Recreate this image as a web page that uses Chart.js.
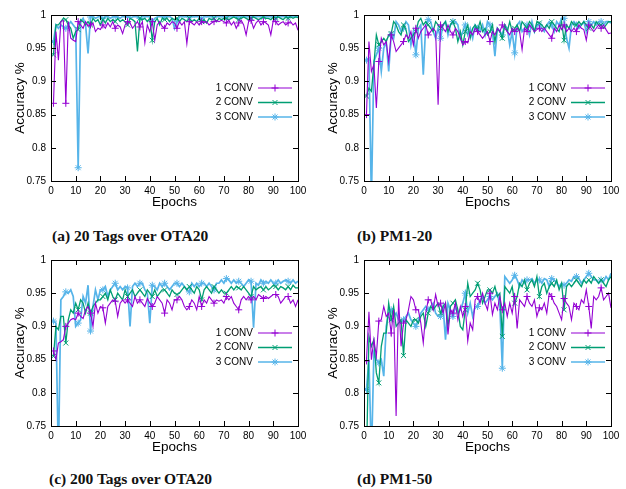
<!DOCTYPE html>
<html>
<head>
<meta charset="utf-8">
<script src="https://cdn.jsdelivr.net/npm/chart.js@4.4.1/dist/chart.umd.min.js"></script>
<style>
    body { margin: 0; background: #fff; width: 626px; height: 489px; position: relative; overflow: hidden; }
    canvas { position: absolute; }
    .cap { position: absolute; font: bold 15.5px "Liberation Serif", serif; line-height: 18px; color: #111; white-space: nowrap; }
</style>
</head>
<body>
<canvas id="chartA" width="313" height="215" style="left:0;top:0"></canvas>
<canvas id="chartB" width="313" height="215" style="left:313px;top:0"></canvas>
<canvas id="chartC" width="313" height="215" style="left:0;top:245px"></canvas>
<canvas id="chartD" width="313" height="215" style="left:313px;top:245px"></canvas>
<div class="cap" style="left:52px;top:227px">(a) 20 Tags over OTA20</div>
<div class="cap" style="left:357px;top:227px">(b) PM1-20</div>
<div class="cap" style="left:49px;top:470px">(c) 200 Tags over OTA20</div>
<div class="cap" style="left:357px;top:470px">(d) PM1-50</div>
<script>
const seriesNames = ['1 CONV', '2 CONV', '3 CONV'];
const xTicks = [0, 10, 20, 30, 40, 50, 60, 70, 80, 90, 100];
const yTicks = [0.75, 0.8, 0.85, 0.9, 0.95, 1];
const epochs = Array.from({ length: 100 }, (_, i) => i + 1);

// (a) 20 Tags over OTA20
const tags20Conv1 = [
    .867,.975,.932,.99,.992,.867,.99,.965,.962,.96,
    .99,.985,.98,.99,.983,.985,.988,.975,.98,.978,
    .985,.98,.988,.982,.99,.98,.985,.982,.972,.985,
    .99,.988,.98,.985,.99,.982,.99,.958,.985,.975,
    .99,.962,.985,.99,.983,.98,.988,.985,.99,.988,
    .98,.99,.985,.99,.957,.99,.988,.985,.99,.985,
    .99,.988,.99,.985,.988,.99,.992,.99,.992,.99,
    .988,.992,.985,.99,.98,.988,.992,.985,.97,.99,
    .992,.98,.988,.992,.985,.99,.988,.985,.97,.992,
    .99,.985,.988,.99,.985,.988,.99,.985,.988,.977];
const tags20Conv2 = [
    .94,.985,.985,.99,.995,.993,.985,.98,.965,.975,
    .978,.993,.99,.985,.99,.985,.995,.99,.993,.985,
    .993,.988,.995,.99,.993,.99,.995,.99,.993,.99,
    .985,.995,.993,.99,.945,.995,.993,.995,.99,.995,
    .962,.99,.995,.985,.995,.993,.995,.99,.995,.993,
    .995,.99,.995,.993,.99,.995,.99,.993,.99,.995,
    .99,.993,.988,.995,.993,.995,.99,.995,.993,.995,
    .995,.993,.995,.997,.995,.993,.995,.997,.995,.993,
    .995,.997,.995,.993,.995,.997,.995,.995,.993,.997,
    .995,.997,.995,.993,.997,.995,.997,.995,.997,.996];
const tags20Conv3 = [
    .96,.985,.98,.985,.982,.98,.985,.99,.985,.98,
    .77,.99,.995,.985,.942,.997,.998,.995,.997,.998,
    .995,.997,.998,.995,.997,.998,.997,.995,.998,.997,
    .998,.995,.997,.998,.997,.995,.998,.997,.998,.997,
    .99,.995,.997,.998,.997,.998,.997,.998,.995,.98,
    .99,.997,.998,.997,.998,.997,.998,.997,.998,.997,
    .995,.998,.997,.998,.997,.998,.997,.998,.997,.998,
    .997,.998,.997,.998,.997,.998,.997,.998,.997,.998,
    .997,.998,.997,.998,.997,.998,.997,.998,.997,.998,
    .997,.998,.997,.998,.997,.998,.997,.998,.997,.998];

// (b) PM1-20
const pm120Conv1 = [
    .85,.96,.915,.925,.86,.93,.965,.955,.96,.93,
    .97,.96,.945,.95,.955,.96,.97,.965,.975,.955,
    .98,.965,.975,.98,.985,.97,.975,.98,.975,.865,
    .985,.98,.975,.985,.975,.97,.98,.975,.965,.955,
    .96,.958,.975,.97,.98,.975,.97,.965,.97,.975,
    .96,.975,.97,.98,.975,.985,.98,.975,.97,.98,
    .975,.98,.975,.948,.98,.975,.985,.98,.975,.978,
    .98,.975,.98,.975,.97,.965,.98,.975,.985,.978,
    .985,.975,.98,.975,.98,.975,.985,.98,.978,.962,
    .985,.98,.975,.98,.985,.98,.985,.978,.972,.973];
const pm120Conv2 = [
    .878,.89,.885,.925,.97,.955,.96,.965,.96,.97,
    .972,.99,.985,.975,.97,.985,.978,.96,.965,.97,
    .975,.99,.995,.985,.99,.985,.98,.975,.99,.985,
    .98,.985,.99,.975,.985,.99,.98,.96,.975,.955,
    .975,.985,.965,.98,.985,.978,.99,.975,.98,.97,
    .975,.985,.96,.98,.975,.965,.985,.975,.99,.975,
    .98,.985,.975,.99,.985,.98,.99,.985,.975,.99,
    .988,.985,.98,.985,.98,.99,.985,.98,.975,.99,
    .962,.985,.98,.99,.985,.985,.99,.985,.99,.985,
    .98,.985,.98,.99,.985,.985,.98,.985,.99,.99];
const pm120Conv3 = [
    .932,.935,.72,.93,.94,.95,.915,.95,.96,.915,
    .97,.965,.99,.985,.975,.98,.99,.985,.955,.975,
    .94,.98,.985,.91,.985,.993,.99,.975,.965,.98,
    .965,.985,.99,.97,.985,.99,.99,.985,.965,.975,
    .985,.97,.98,.965,.985,.98,.975,.985,.97,.99,
    .985,.975,.938,.98,.975,.97,.985,.98,.955,.975,
    .943,.985,.99,.975,.98,.985,.97,.99,.975,.985,
    .985,.98,.975,.985,.99,.985,.975,.99,.985,.995,
    .995,.965,.95,.985,.99,.985,.98,.985,.99,.975,
    .99,.985,.99,.985,.99,.99,.985,.99,.99,.988];

// (c) 200 Tags over OTA20
const tags200Conv1 = [
    .863,.85,.875,.877,.88,.9,.905,.91,.912,.91,
    .92,.915,.912,.925,.93,.92,.9,.935,.92,.93,
    .928,.905,.93,.935,.94,.938,.915,.935,.94,.935,
    .94,.935,.93,.945,.935,.94,.935,.93,.942,.935,
    .93,.935,.945,.94,.935,.92,.94,.935,.925,.94,
    .94,.945,.94,.93,.925,.93,.94,.935,.925,.945,
    .93,.94,.935,.945,.94,.935,.94,.938,.94,.935,
    .945,.94,.945,.935,.93,.925,.94,.945,.94,.945,
    .94,.945,.94,.948,.945,.942,.945,.942,.945,.948,
    .948,.945,.935,.94,.945,.945,.935,.94,.93,.94];
const tags200Conv2 = [
    .855,.9,.895,.915,.915,.875,.91,.925,.92,.935,
    .925,.94,.935,.92,.935,.92,.93,.935,.94,.94,
    .945,.95,.94,.955,.945,.94,.95,.945,.94,.955,
    .945,.95,.955,.945,.95,.955,.95,.945,.955,.95,
    .945,.955,.945,.95,.955,.955,.95,.945,.955,.95,
    .948,.95,.955,.96,.955,.96,.955,.95,.96,.955,
    .94,.955,.96,.955,.95,.96,.955,.95,.955,.95,
    .95,.955,.96,.955,.96,.958,.955,.96,.955,.95,
    .945,.96,.955,.958,.96,.955,.96,.955,.958,.962,
    .96,.955,.96,.958,.955,.96,.955,.962,.958,.958];
const tags200Conv3 = [
    .908,.905,.70,.94,.945,.952,.95,.955,.945,.9,
    .905,.91,.945,.935,.962,.893,.93,.955,.94,.955,
    .955,.96,.945,.955,.96,.965,.955,.96,.955,.96,
    .958,.9,.96,.965,.96,.965,.965,.955,.95,.905,
    .962,.96,.955,.965,.96,.965,.96,.955,.96,.965,
    .965,.96,.965,.96,.955,.952,.965,.96,.965,.96,
    .965,.965,.96,.965,.96,.955,.965,.965,.97,.965,
    .972,.97,.965,.97,.965,.968,.965,.96,.965,.97,
    .968,.898,.965,.962,.97,.965,.968,.965,.97,.965,
    .965,.97,.965,.968,.97,.968,.965,.97,.965,.968];

// (d) PM1-50
const pm150Conv1 = [
    .848,.922,.85,.88,.855,.908,.91,.93,.915,.92,
    .89,.925,.765,.942,.87,.905,.91,.925,.945,.94,
    .925,.925,.905,.875,.92,.94,.94,.925,.948,.93,
    .935,.92,.935,.888,.925,.92,.935,.91,.93,.915,
    .93,.878,.905,.895,.94,.945,.935,.95,.935,.925,
    .95,.918,.935,.925,.945,.925,.935,.915,.935,.92,
    .945,.897,.94,.935,.93,.945,.935,.93,.94,.915,
    .928,.925,.935,.92,.95,.945,.935,.93,.92,.91,
    .942,.935,.93,.91,.935,.93,.925,.94,.935,.955,
    .93,.897,.945,.94,.945,.958,.94,.945,.95,.928];
const pm150Conv2 = [
    .70,.885,.87,.88,.83,.815,.87,.89,.89,.935,
    .91,.93,.9,.905,.91,.856,.91,.905,.9,.91,
    .91,.905,.915,.92,.9,.92,.93,.925,.93,.935,
    .92,.93,.935,.9,.93,.935,.94,.925,.9,.895,
    .925,.965,.945,.95,.955,.965,.955,.935,.945,.955,
    .955,.95,.96,.945,.95,.885,.96,.955,.95,.96,
    .935,.945,.965,.96,.97,.955,.965,.97,.96,.975,
    .945,.96,.965,.95,.96,.965,.96,.97,.955,.965,
    .925,.96,.965,.96,.965,.97,.965,.96,.97,.965,
    .97,.965,.975,.97,.965,.97,.965,.96,.97,.975];
const pm150Conv3 = [
    .805,.85,.70,.86,.85,.845,.85,.825,.9,.92,
    .925,.915,.92,.91,.905,.91,.915,.92,.91,.905,
    .9,.91,.92,.925,.93,.925,.93,.935,.92,.915,
    .915,.93,.88,.935,.925,.915,.93,.92,.925,.935,
    .95,.92,.935,.915,.93,.93,.94,.945,.935,.94,
    .945,.94,.945,.95,.93,.837,.975,.97,.965,.97,
    .977,.97,.96,.97,.965,.97,.97,.972,.965,.97,
    .97,.965,.972,.97,.96,.972,.97,.965,.96,.965,
    .962,.965,.97,.968,.975,.975,.972,.965,.97,.975,
    .98,.975,.97,.97,.965,.97,.968,.975,.97,.98];

const colors  = ['#9400d3', '#009e73', '#56b4e9'];
const widths  = [1.1, 1.3, 1.7];
const markers = ['cross', 'crossRot', 'star'];
const FONT = '"Liberation Sans", Arial, sans-serif';

// gnuplot look: black frame, ticks pointing inwards, key on the right
const gnuplotFrame = {
    id: 'gnuplotFrame',
    afterDatasetsDraw(chart) {
        const { ctx, chartArea: a, scales: { x, y } } = chart;
        ctx.save();
        ctx.strokeStyle = '#000';
        ctx.lineWidth = 1;
        ctx.beginPath();
        xTicks.forEach(v => {
            const px = Math.round(x.getPixelForValue(v)) + 0.5;
            ctx.moveTo(px, a.bottom); ctx.lineTo(px, a.bottom - 5);
            ctx.moveTo(px, a.top);    ctx.lineTo(px, a.top + 5);
        });
        yTicks.forEach(v => {
            const py = Math.round(y.getPixelForValue(v)) + 0.5;
            ctx.moveTo(a.left, py);  ctx.lineTo(a.left + 5, py);
            ctx.moveTo(a.right, py); ctx.lineTo(a.right - 5, py);
        });
        ctx.stroke();
        ctx.strokeRect(Math.round(a.left) + 0.5, Math.round(a.top) + 0.5,
                       Math.round(a.right - a.left), Math.round(a.bottom - a.top));

        // key
        ctx.font = '10px ' + FONT;
        ctx.textAlign = 'right';
        ctx.textBaseline = 'middle';
        chart.data.datasets.forEach((ds, i) => {
            const ky = a.top + 73 + i * 14.5;
            ctx.fillStyle = '#000';
            ctx.fillText(ds.label, a.left + 202, ky);
            ctx.strokeStyle = ds.borderColor;
            ctx.lineWidth = ds.borderWidth;
            ctx.beginPath();
            ctx.moveTo(a.left + 207, ky); ctx.lineTo(a.left + 241, ky);
            ctx.stroke();
            ctx.lineWidth = 1;
            Chart.helpers.drawPoint(ctx, { pointStyle: ds.pointStyle, radius: 3.5, rotation: 0, borderWidth: 1 }, a.left + 224, ky);
        });
        ctx.restore();
    }
};

function makeChart(id, series) {
    const datasets = series.map((vals, i) => ({
        label: seriesNames[i],
        data: vals.map((v, k) => ({ x: epochs[k], y: v })),
        borderColor: colors[i],
        backgroundColor: colors[i],
        borderWidth: widths[i],
        pointStyle: markers[i],
        pointBorderWidth: 1,
        pointRadius: ctx => (ctx.dataIndex % 5 === 0 ? 3.5 : 0),
        tension: 0,
        clip: 0
    }));

    return new Chart(document.getElementById(id), {
        type: 'line',
        data: { datasets },
        options: {
            responsive: false,
            animation: false,
            events: [],
            layout: { padding: { left: 0, top: 15, right: 15, bottom: 0 } },
            plugins: { legend: { display: false }, tooltip: { enabled: false } },
            scales: {
                x: {
                    type: 'linear', min: 0, max: 100,
                    afterBuildTicks: s => { s.ticks = xTicks.map(v => ({ value: v })); },
                    afterFit: s => { s.height = 34; },
                    grid: { display: false, drawTicks: false },
                    border: { display: false },
                    ticks: { color: '#000', font: { family: FONT, size: 10 }, padding: 4, maxRotation: 0 },
                    title: { display: true, text: 'Epochs', color: '#000',
                             font: { family: FONT, size: 13.5 }, padding: { top: 0, bottom: 5 } }
                },
                y: {
                    min: 0.75, max: 1,
                    afterBuildTicks: s => { s.ticks = yTicks.map(v => ({ value: v })); },
                    afterFit: s => { s.width = 51; },
                    grid: { display: false, drawTicks: false },
                    border: { display: false },
                    ticks: { color: '#000', font: { family: FONT, size: 10 }, padding: 5,
                             callback: v => String(v) },
                    title: { display: true, text: 'Accuracy %', color: '#000',
                             font: { family: FONT, size: 13.5 }, padding: { top: 12, bottom: 0 } }
                }
            }
        },
        plugins: [gnuplotFrame]
    });
}

makeChart('chartA', [tags20Conv1, tags20Conv2, tags20Conv3]);
makeChart('chartB', [pm120Conv1, pm120Conv2, pm120Conv3]);
makeChart('chartC', [tags200Conv1, tags200Conv2, tags200Conv3]);
makeChart('chartD', [pm150Conv1, pm150Conv2, pm150Conv3]);
</script>
</body>
</html>
